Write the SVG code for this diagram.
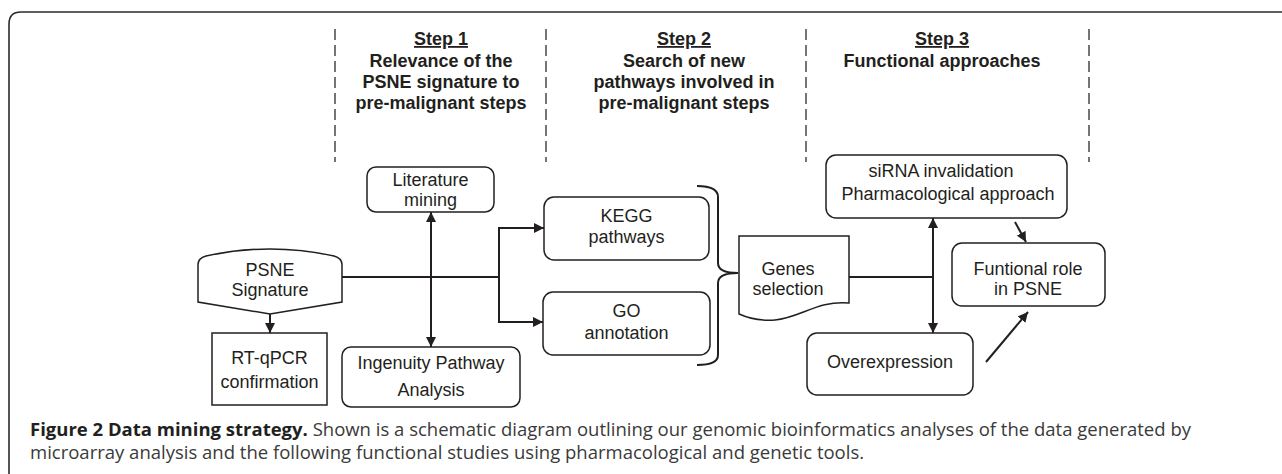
<svg xmlns="http://www.w3.org/2000/svg" width="1282" height="474" viewBox="0 0 1282 474">
<defs>
<style>
.frame{fill:none;stroke:#2b2b2b;stroke-width:1.6}
.dash{fill:none;stroke:#2b2b2b;stroke-width:1.3;stroke-dasharray:11 5}
.box{fill:#fff;stroke:#231f20;stroke-width:1.5}
.conn{fill:none;stroke:#231f20;stroke-width:2}
.hd{font-family:"Liberation Sans",Arial,sans-serif;font-size:18px;font-weight:bold;fill:#231f20;text-anchor:middle}
.t{font-family:"Liberation Sans",Arial,sans-serif;font-size:18px;fill:#231f20;text-anchor:middle}
.cap{font-family:"Open Sans","Noto Sans",sans-serif;font-size:18.5px;fill:#3a3a3a}
.capb{font-weight:bold;fill:#231f20}
</style>
<marker id="ah" viewBox="0 0 10 10" refX="10" refY="5" markerWidth="10" markerHeight="10" markerUnits="userSpaceOnUse" orient="auto-start-reverse">
<path d="M0,0 L10,5 L0,10 Z" fill="#231f20"/>
</marker>
</defs>
<rect width="1282" height="474" fill="#fff"/>
<path class="frame" d="M9,474 V24 Q9,12 21,12 H1282"/>
<g id="dividers">
<line class="dash" x1="335" y1="29" x2="335" y2="162"/>
<line class="dash" x1="546" y1="29" x2="546" y2="162"/>
<line class="dash" x1="806" y1="29" x2="806" y2="162"/>
<line class="dash" x1="1089" y1="29" x2="1089" y2="162"/>
</g>
<g id="step1">
<text class="hd" x="441" y="45" text-decoration="underline">Step 1</text>
<text class="hd" x="441" y="67">Relevance of the</text>
<text class="hd" x="441" y="88">PSNE signature to</text>
<text class="hd" x="441" y="109">pre-malignant steps</text>
</g>
<g id="step2">
<text class="hd" x="684" y="45" text-decoration="underline">Step 2</text>
<text class="hd" x="684" y="67">Search of new</text>
<text class="hd" x="684" y="88">pathways involved in</text>
<text class="hd" x="684" y="109">pre-malignant steps</text>
</g>
<g id="step3">
<text class="hd" x="942" y="45" text-decoration="underline">Step 3</text>
<text class="hd" x="942" y="67">Functional approaches</text>
</g>
<g id="connectors">
<line class="conn" x1="270" y1="314" x2="270" y2="333" marker-end="url(#ah)"/>
<line class="conn" x1="431" y1="212" x2="431" y2="347" marker-start="url(#ah)" marker-end="url(#ah)"/>
<polyline class="conn" points="342,277 499,277"/>
<polyline class="conn" points="544,228 499,228 499,322 543,322" marker-start="url(#ah)" marker-end="url(#ah)"/>
<path class="conn" stroke-width="1.6" d="M697,186 Q718,186 718,197 V263 Q718,273 738,273 Q718,273 718,283 V355 Q718,365 697,365"/>
<polyline class="conn" points="849,277 933,277"/>
<line class="conn" x1="933" y1="218" x2="933" y2="333" marker-start="url(#ah)" marker-end="url(#ah)"/>
<line class="conn" x1="1015" y1="222" x2="1026" y2="242" marker-end="url(#ah)"/>
<line class="conn" x1="986" y1="362" x2="1028" y2="312" marker-end="url(#ah)"/>
</g>
<g id="psne">
<path class="box" d="M198,302 V265 Q198,258 206,256 Q270,242 334,256 Q342,258 342,265 V302 L270,314 Z"/>
<text class="t" x="270" y="276">PSNE</text>
<text class="t" x="270" y="296">Signature</text>
</g>
<g id="rtqpcr">
<rect class="box" x="212" y="333" width="115" height="72"/>
<text class="t" x="269.5" y="364">RT-qPCR</text>
<text class="t" x="269.5" y="388">confirmation</text>
</g>
<g id="literature">
<rect class="box" x="367" y="167" width="127" height="45" rx="9"/>
<text class="t" x="430.5" y="186">Literature</text>
<text class="t" x="430.5" y="206">mining</text>
</g>
<g id="ingenuity">
<rect class="box" x="342" y="347" width="178" height="60" rx="9"/>
<text class="t" x="431" y="369">Ingenuity Pathway</text>
<text class="t" x="431" y="396">Analysis</text>
</g>
<g id="kegg">
<rect class="box" x="544" y="197" width="165" height="63" rx="10"/>
<text class="t" x="626.5" y="222">KEGG</text>
<text class="t" x="626.5" y="243">pathways</text>
</g>
<g id="go">
<rect class="box" x="543" y="292" width="167" height="63" rx="10"/>
<text class="t" x="626.5" y="317">GO</text>
<text class="t" x="626.5" y="339">annotation</text>
</g>
<g id="genes">
<path class="box" d="M739,236 H849 V303 C818,300 800,318 775,320 C760,321 748,318 739,314 Z"/>
<text class="t" x="788" y="275">Genes</text>
<text class="t" x="788" y="295">selection</text>
</g>
<g id="functional-approaches">
<rect class="box" x="826" y="155" width="241" height="63" rx="10"/>
<text class="t" x="941" y="177">siRNA invalidation</text>
<text class="t" x="948" y="200">Pharmacological approach</text>
</g>
<g id="functional-role">
<rect class="box" x="952" y="243" width="153" height="63" rx="10"/>
<text class="t" x="1028" y="275">Funtional role</text>
<text class="t" x="1028" y="295">in PSNE</text>
</g>
<g id="overexpression">
<rect class="box" x="807" y="333" width="166" height="62" rx="10"/>
<text class="t" x="890" y="368">Overexpression</text>
</g>
<g id="caption">
<text class="cap" x="30" y="436"><tspan class="capb">Figure 2 Data mining strategy.</tspan> Shown is a schematic diagram outlining our genomic bioinformatics analyses of the data generated by</text>
<text class="cap" x="30" y="459">microarray analysis and the following functional studies using pharmacological and genetic tools.</text>
</g>
</svg>
